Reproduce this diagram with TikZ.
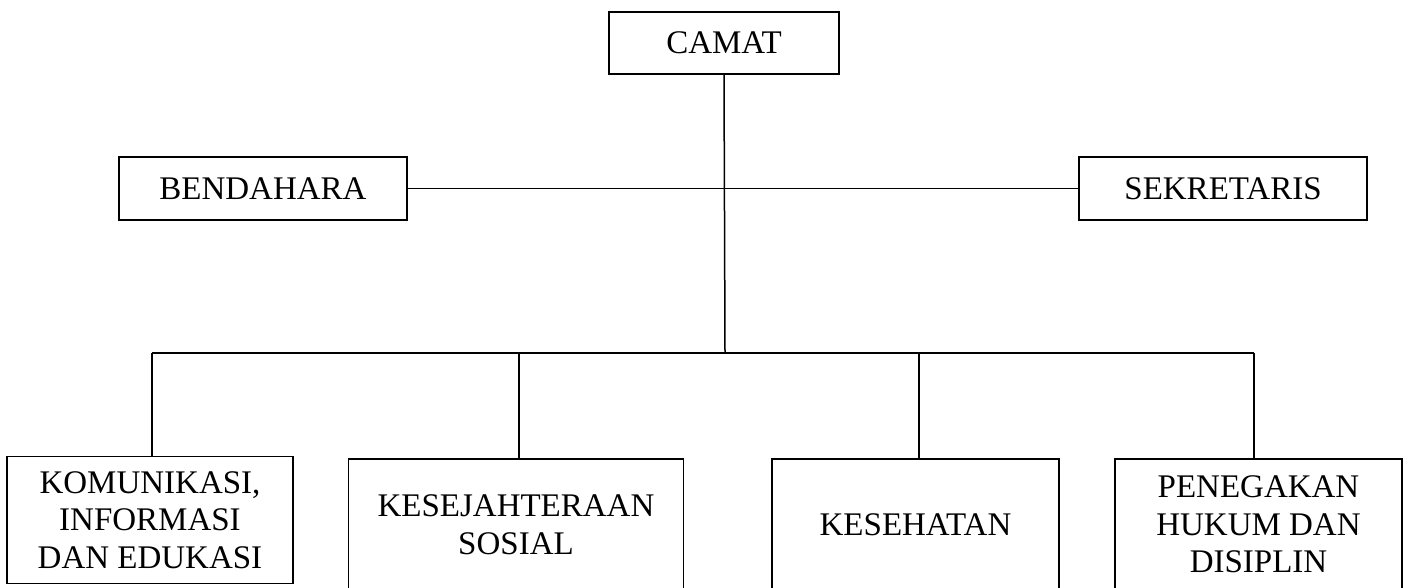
\documentclass[tikz,border=0pt]{standalone}
\usepackage{fontspec}
\setmainfont{Liberation Serif}
\begin{document}
\begin{tikzpicture}[x=1pt,y=-1pt,
  box/.style={draw, line width=1.5pt, inner sep=0pt, align=center,
    font=\fontsize{33}{37.5}\selectfont},
  conn/.style={line width=1.5pt}]
\useasboundingbox (0,0) rectangle (1404,588);
\clip (0,0) rectangle (1404,588);
\node[box, minimum width=230, minimum height=62] (camat) at (724,43) {CAMAT};
\node[box, minimum width=288, minimum height=63] (bend) at (263,188.5) {BENDAHARA};
\node[box, minimum width=288, minimum height=63] (sekr) at (1223,188.5) {SEKRETARIS};
\node[box, minimum width=286, minimum height=127] (kom) at (150,520) {KOMUNIKASI,\\INFORMASI\\DAN EDUKASI};
\node[box, minimum width=335, minimum height=131] (kes) at (516,524.5) {KESEJAHTERAAN\\SOSIAL};
\node[box, minimum width=287, minimum height=131] (sehat) at (915.5,524.5) {KESEHATAN};
\node[box, minimum width=287, minimum height=131] (pen) at (1258.5,524.5) {PENEGAKAN\\HUKUM DAN\\DISIPLIN};
\coordinate (bus) at (725,353);
\coordinate (b1) at (152,353);
\coordinate (b2) at (519,353);
\coordinate (b3) at (919,353);
\coordinate (b4) at (1254,353);
\draw[conn] (camat.south) -- (bus);
\draw[conn] (bend.east) -- (sekr.west);
\draw[conn] (b1) -- (b4);
\draw[conn] (b1) -- (b1 |- kom.north);
\draw[conn] (b2) -- (b2 |- kes.north);
\draw[conn] (b3) -- (b3 |- sehat.north);
\draw[conn] (b4) -- (b4 |- pen.north);
\end{tikzpicture}
\end{document}
